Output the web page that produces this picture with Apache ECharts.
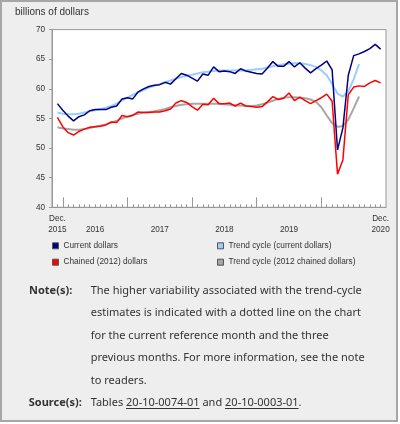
<!DOCTYPE html>
<html>
<head>
<meta charset="utf-8">
<script src="https://cdn.jsdelivr.net/npm/echarts@6/dist/echarts.min.js"></script>
<style>
html,body{margin:0;padding:0;background:#fff;}
#c{width:400px;height:424px;}
</style>
</head>
<body>
<div id="c"></div>
<script>
// ---- data ----
const monthNames = ['Jan','Feb','Mar','Apr','May','Jun','Jul','Aug','Sep','Oct','Nov','Dec'];
const months = ['Dec 2015'];
for (let y = 2016; y <= 2020; y++) for (let m = 0; m < 12; m++) months.push(monthNames[m] + ' ' + y);

const currentDollars = [57.5, 56.4, 55.4, 54.6, 55.3, 55.6, 56.3, 56.5, 56.5, 56.5, 56.9, 57.1,
  58.3, 58.5, 58.3, 59.5, 60.0, 60.4, 60.6, 60.7, 61.1, 60.8, 61.7, 62.6,
  62.3, 61.8, 61.3, 62.5, 62.3, 63.7, 62.9, 63.0, 62.9, 62.6, 63.4, 63.0,
  62.8, 62.6, 62.5, 63.5, 64.6, 63.8, 63.8, 64.6, 63.7, 64.4, 63.5, 62.7,
  63.4, 64.0, 64.7, 63.2, 49.7, 53.4, 62.3, 65.6, 65.9, 66.3, 66.8, 67.5,
  66.7];
const chainedDollars = [55.2, 53.6, 52.6, 52.2, 52.8, 53.2, 53.5, 53.6, 53.7, 53.9, 54.4, 54.3,
  55.5, 55.3, 55.5, 56.1, 56.0, 56.0, 56.1, 56.1, 56.3, 56.6, 57.6, 58.0,
  57.7, 57.0, 56.4, 57.4, 57.3, 58.4, 57.5, 57.5, 57.6, 57.1, 57.6, 57.1,
  57.0, 56.9, 57.0, 57.8, 58.7, 58.2, 58.4, 59.3, 58.0, 58.6, 58.0, 57.5,
  58.0, 58.5, 59.1, 57.9, 45.6, 48.0, 59.0, 60.3, 60.5, 60.4, 61.0, 61.4,
  61.0];
const trendCurrent = [56.0, 55.8, 55.7, 55.7, 55.8, 56.0, 56.2, 56.4, 56.6, 56.8, 57.1, 57.5,
  58.0, 58.5, 59.0, 59.4, 59.8, 60.2, 60.5, 60.8, 61.1, 61.4, 61.7, 62.0,
  62.2, 62.4, 62.6, 62.8, 62.9, 63.0, 63.1, 63.1, 63.1, 63.1, 63.1, 63.1,
  63.2, 63.3, 63.4, 63.6, 63.8, 64.0, 64.15, 64.25, 64.3, 64.3, 64.2, 64.0,
  63.7, 63.1, 62.3, 60.8, 59.2, 58.7, 59.6, 61.6, 64.2];
const trendChained = [53.5, 53.3, 53.2, 53.1, 53.1, 53.2, 53.4, 53.6, 53.8, 54.0, 54.3, 54.6,
  55.0, 55.3, 55.6, 55.8, 56.0, 56.1, 56.2, 56.4, 56.6, 56.9, 57.1, 57.3,
  57.4, 57.5, 57.5, 57.5, 57.5, 57.5, 57.5, 57.4, 57.3, 57.2, 57.2, 57.1,
  57.1, 57.2, 57.4, 57.7, 58.0, 58.3, 58.5, 58.6, 58.6, 58.5, 58.4, 58.2,
  57.8, 56.9, 55.5, 54.2, 53.6, 53.7, 54.8, 56.7, 58.7];
const xTickLabels = {'Dec 2015': 'Dec.\n2015', 'Jul 2016': '\n2016', 'Jul 2017': '\n2017',
  'Jul 2018': '\n2018', 'Jul 2019': '\n2019', 'Dec 2020': 'Dec.\n2020'};
const seriesNames = ['Current dollars', 'Chained (2012) dollars', 'Trend cycle (current dollars)', 'Trend cycle (2012 chained dollars)'];
const noteLines = ['The higher variability associated with the trend-cycle',
  'estimates is indicated with a dotted line on the chart',
  'for the current reference month and the three',
  'previous months. For more information, see the note',
  'to readers.'];
const sourceParts = ['Tables ', '20-10-0074-01', ' and ', '20-10-0003-01', '.'];

// ---- build ----
const axisCats = ['Nov 2015'].concat(months, ['Jan 2021']);
const pad = arr => [null].concat(arr);
const FF = 'Liberation Sans';
const NF = 'Noto Sans';
const TXT = '#333333';
const AX = '#999999';

function tw(s, font) {
  const c = document.createElement('canvas').getContext('2d');
  c.font = font; return c.measureText(s).width;
}
const srcX = 90.7;
const sf = '11px "' + NF + '"';
const l1x = srcX + tw(sourceParts[0], sf);
const l1w = tw(sourceParts[1], sf);
const l2x = l1x + l1w + tw(sourceParts[2], sf);
const l2w = tw(sourceParts[3], sf);
const ulY = 408.5;

const chart = echarts.init(document.getElementById('c'));
chart.setOption({
  animation: false,
  backgroundColor: '#ffffff',
  title: {text: 'billions of dollars', left: 15, top: 5, padding: [2, 0, 2, 0],
    textStyle: {fontSize: 10, fontWeight: 'normal', color: TXT, fontFamily: FF}},
  grid: {left: 52, right: 14, top: 29.6, bottom: 216.7, show: true,
    backgroundColor: '#ffffff', borderColor: AX, borderWidth: 1},
  xAxis: [
    {type: 'category', data: axisCats, boundaryGap: false, position: 'bottom',
      axisLine: {lineStyle: {color: AX}},
      axisTick: {inside: true, length: 3, interval: (i) => i > 0 && i < axisCats.length - 1, lineStyle: {color: AX}},
      axisLabel: {interval: (i, v) => xTickLabels[v] !== undefined, formatter: v => xTickLabels[v] || '',
        fontSize: 8.2, lineHeight: 10.7, margin: 6, color: TXT, fontFamily: FF},
      splitLine: {show: false}},
    {type: 'category', data: axisCats, boundaryGap: false, position: 'bottom',
      axisLine: {show: false},
      axisTick: {inside: true, length: 10, interval: (i, v) => String(v).startsWith('Jan') && i < axisCats.length - 1, lineStyle: {color: AX}},
      axisLabel: {show: false}, splitLine: {show: false}}
  ],
  yAxis: {type: 'value', min: 40, max: 70, interval: 5,
    axisLine: {show: true, lineStyle: {color: AX}},
    axisTick: {show: true, length: 3, lineStyle: {color: AX}},
    axisLabel: {fontSize: 8.2, color: TXT, margin: 7, fontFamily: FF},
    splitLine: {show: false}},
  legend: [
    {left: 52, top: 240.8, orient: 'vertical', itemWidth: 6, itemHeight: 6, itemGap: 6.4, padding: 0,
      selectedMode: false, icon: 'rect', itemStyle: {borderColor: '#555', borderWidth: 1},
      data: [seriesNames[0], seriesNames[1]],
      textStyle: {fontSize: 8.3, color: TXT, fontFamily: FF, lineHeight: 10}},
    {left: 217, top: 240.8, orient: 'vertical', itemWidth: 6, itemHeight: 6, itemGap: 6.4, padding: 0,
      selectedMode: false, icon: 'rect', itemStyle: {borderColor: '#555', borderWidth: 1},
      data: [seriesNames[2], seriesNames[3]],
      textStyle: {fontSize: 8.3, color: TXT, fontFamily: FF, lineHeight: 10}}
  ],
  series: [
    {name: seriesNames[2], type: 'line', data: pad(trendCurrent), showSymbol: false, color: '#99ccff',
      lineStyle: {width: 2, color: '#99ccff'}, z: 2},
    {name: seriesNames[3], type: 'line', data: pad(trendChained), showSymbol: false, color: '#a6a6a6',
      lineStyle: {width: 2, color: '#a6a6a6'}, z: 2},
    {name: seriesNames[0], type: 'line', data: pad(currentDollars), showSymbol: false, color: '#000080',
      lineStyle: {width: 1.5, color: '#000080'}, z: 3},
    {name: seriesNames[1], type: 'line', data: pad(chainedDollars), showSymbol: false, color: '#ff0000',
      lineStyle: {width: 1.5, color: '#ff0000'}, z: 3}
  ],
  graphic: [
    {type: 'rect', z: -100, silent: true, shape: {x: 1, y: 1, width: 396, height: 420},
      style: {fill: '#eeeeee', stroke: '#a6a6a6', lineWidth: 2}},
    {type: 'text', x: 29, y: 279.5, silent: true,
      style: {text: 'Note(s):', fontSize: 11, fontWeight: 'bold', fontFamily: NF, fill: TXT, lineHeight: 22.5, verticalAlign: 'top'}},
    {type: 'text', x: srcX, y: 279.5, silent: true,
      style: {text: noteLines.join('\n'), fontSize: 11, fontFamily: NF, fill: TXT, lineHeight: 22.5, verticalAlign: 'top'}},
    {type: 'text', x: 28.7, y: 392, silent: true,
      style: {text: 'Source(s):', fontSize: 11, fontWeight: 'bold', fontFamily: NF, fill: TXT, lineHeight: 22.5, verticalAlign: 'top'}},
    {type: 'text', x: srcX, y: 392, silent: true,
      style: {text: sourceParts.join(''), fontSize: 11, fontFamily: NF, fill: TXT, lineHeight: 22.5, verticalAlign: 'top'}},
    {type: 'line', silent: true, shape: {x1: l1x, y1: ulY, x2: l1x + l1w, y2: ulY}, style: {stroke: TXT, lineWidth: 1}},
    {type: 'line', silent: true, shape: {x1: l2x, y1: ulY, x2: l2x + l2w, y2: ulY}, style: {stroke: TXT, lineWidth: 1}}
  ]
});
</script>
</body>
</html>
